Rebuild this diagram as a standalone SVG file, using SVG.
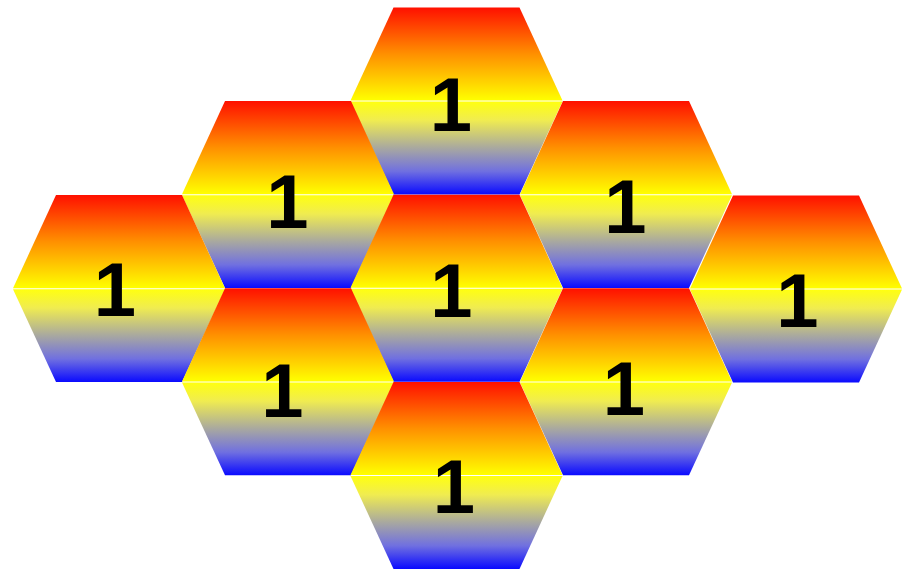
<svg xmlns="http://www.w3.org/2000/svg" xmlns:xlink="http://www.w3.org/1999/xlink" width="913" height="571" viewBox="0 0 913 571">
  <style>
    .lbl { font-family: "Liberation Sans", Arial, sans-serif; font-weight: bold; font-size: 76px; fill: #000; text-anchor: middle; }
  </style>
  <defs>
    <linearGradient id="gTop" x1="0" y1="0" x2="0" y2="1">
      <stop offset="0" stop-color="#ff1000"/>
      <stop offset="0.5" stop-color="#ff9000"/>
      <stop offset="1" stop-color="#ffff00"/>
    </linearGradient>
    <linearGradient id="gBot" x1="0" y1="0" x2="0" y2="1">
      <stop offset="0" stop-color="#ffff10"/>
      <stop offset="0.2" stop-color="#f0ec50"/>
      <stop offset="0.5" stop-color="#a8a8a0"/>
      <stop offset="0.75" stop-color="#7070e0"/>
      <stop offset="1" stop-color="#0a0aff"/>
    </linearGradient>
    <g id="hex">
      <polygon points="-63,-93.5 63,-93.5 106,-0.4 -106,-0.4" fill="url(#gTop)"/>
      <polygon points="-106,0.6 106,0.6 63,93.5 -63,93.5" fill="url(#gBot)"/>
    </g>
  </defs>
  <g id="connectors"/>
  <g id="n1"><use xlink:href="#hex" transform="translate(456.5,101)"/><text class="lbl" x="451" y="131">1</text></g>
  <g id="n2"><use xlink:href="#hex" transform="translate(288,194.6)"/><text class="lbl" x="287.5" y="228">1</text></g>
  <g id="n3"><use xlink:href="#hex" transform="translate(626,194.6)"/><text class="lbl" x="625.5" y="233">1</text></g>
  <g id="n4"><use xlink:href="#hex" transform="translate(119,288.6)"/><text class="lbl" x="115" y="316">1</text></g>
  <g id="n5"><use xlink:href="#hex" transform="translate(456.5,288.2)"/><text class="lbl" x="451.5" y="317">1</text></g>
  <g id="n6"><use xlink:href="#hex" transform="translate(796,289)"/><text class="lbl" x="797.5" y="327">1</text></g>
  <g id="n7"><use xlink:href="#hex" transform="translate(288,381.8)"/><text class="lbl" x="282.5" y="417">1</text></g>
  <g id="n8"><use xlink:href="#hex" transform="translate(626,381.8)"/><text class="lbl" x="624" y="415">1</text></g>
  <g id="n9"><use xlink:href="#hex" transform="translate(456.5,475.4)"/><text class="lbl" x="454" y="513">1</text></g>
</svg>
